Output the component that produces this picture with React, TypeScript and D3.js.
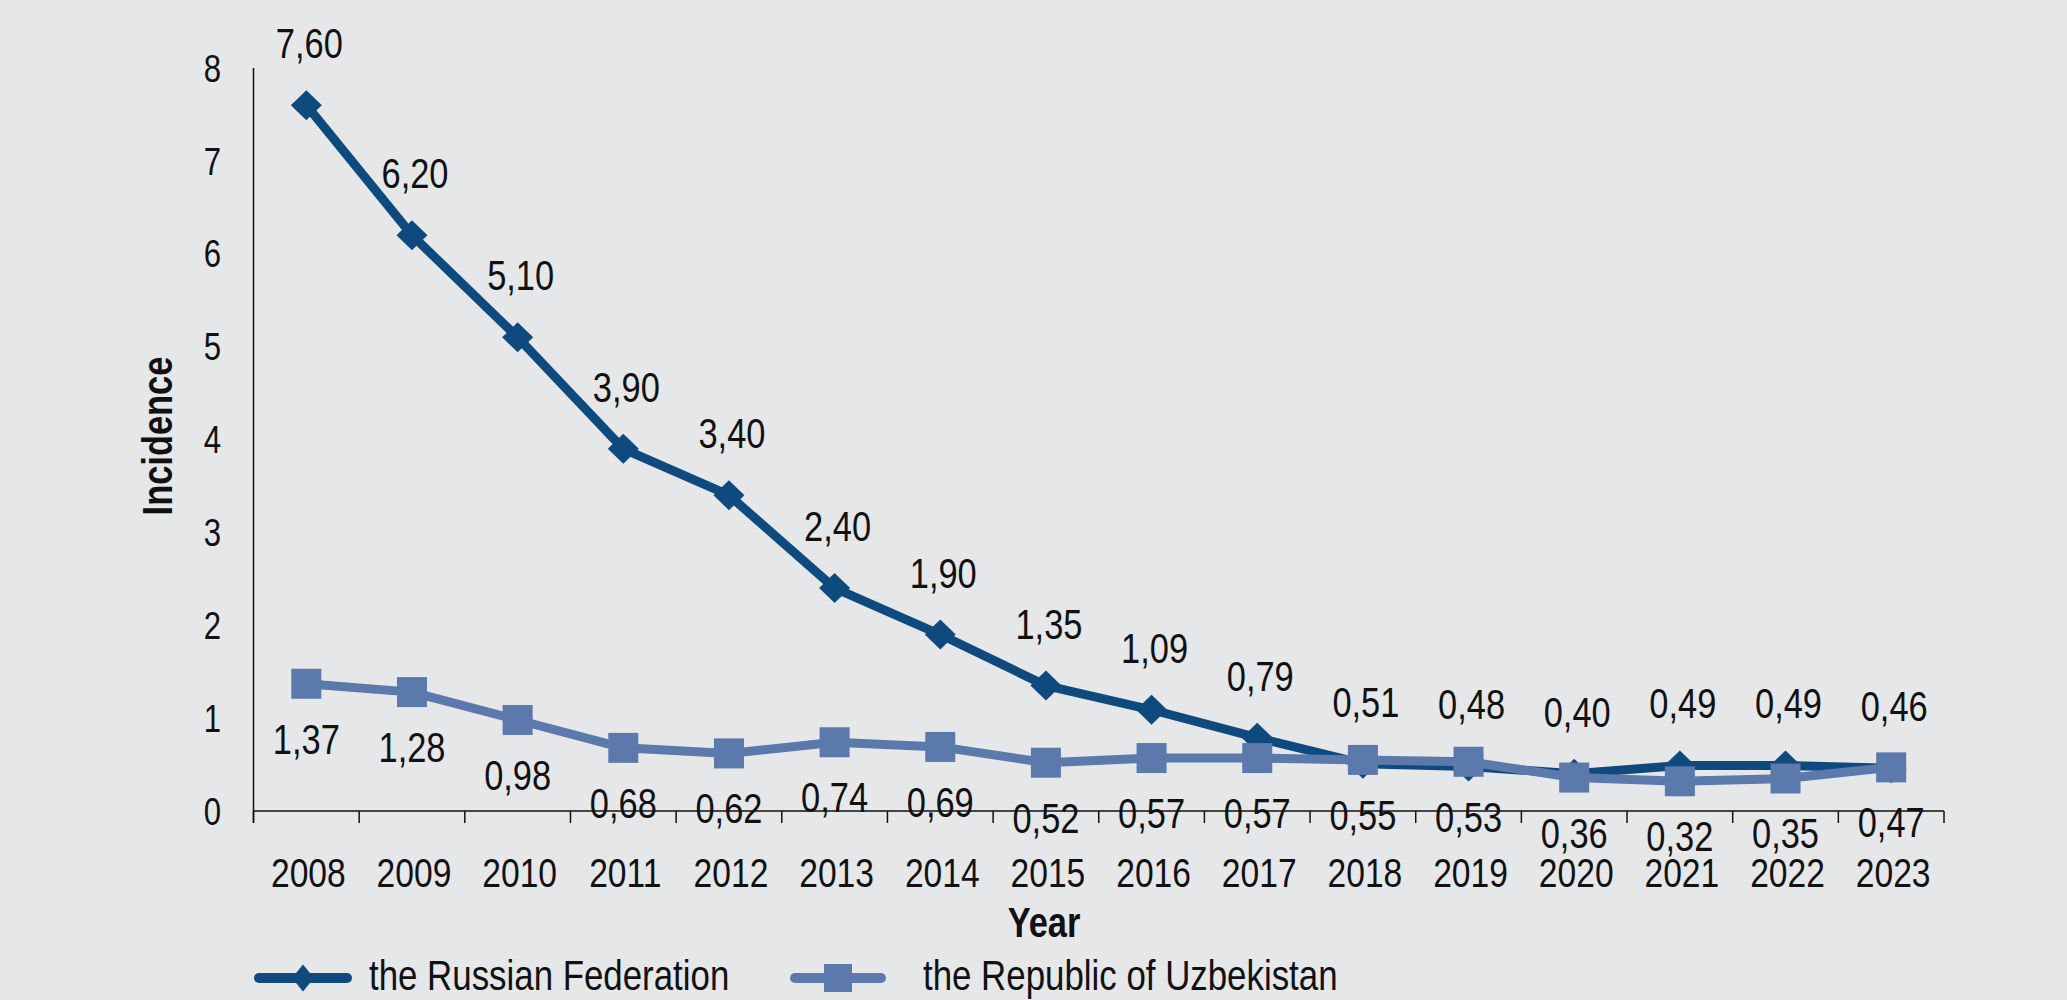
import React from "react";
import * as d3 from "d3";

const years = ["2008","2009","2010","2011","2012","2013","2014","2015","2016","2017","2018","2019","2020","2021","2022","2023"];
const russia = [7.6, 6.2, 5.1, 3.9, 3.4, 2.4, 1.9, 1.35, 1.09, 0.79, 0.51, 0.48, 0.4, 0.49, 0.49, 0.46];
const uzbekistan = [1.37, 1.28, 0.98, 0.68, 0.62, 0.74, 0.69, 0.52, 0.57, 0.57, 0.55, 0.53, 0.36, 0.32, 0.35, 0.47];
const yTicks = [0, 1, 2, 3, 4, 5, 6, 7, 8];
const seriesNames = ["the Russian Federation", "the Republic of Uzbekistan"];

const W = 2067, H = 1000;
const BG = "#e6e7e9";
const C_RU = "#0f4a7e";
const C_UZ = "#5b79ab";
const FONT = "'Liberation Sans', Arial, sans-serif";
const NARROW = 0.82;

const fmt = (v: number) => v.toFixed(2).replace(".", ",");

type NTProps = {
  x: number; y: number; size: number; anchor?: "start" | "middle" | "end";
  bold?: boolean; rotate?: number; dy?: string; children: React.ReactNode;
};
function NText({ x, y, size, anchor = "start", bold = false, rotate = 0, dy, children }: NTProps) {
  return (
    <g transform={`translate(${x},${y}) rotate(${rotate}) scale(${NARROW},1)`}>
      <text x={0} y={0} dy={dy} textAnchor={anchor} fontSize={size} fontWeight={bold ? "bold" : "normal"} fill="#111">{children}</text>
    </g>
  );
}

export default function App() {
  const x = d3.scaleBand<string>().domain(years).range([253.5, 1944]);
  const y = d3.scaleLinear().domain([0, 8]).range([811, 68]);
  const cx = (i: number) => (x(years[i]) as number) + x.bandwidth() / 2;
  const line = d3.line<number>().x((_, i) => cx(i)).y((d) => y(d));
  const diamond = (px: number, py: number, hw: number, hh: number) =>
    `M${px},${py - hh}L${px + hw},${py}L${px},${py + hh}L${px - hw},${py}Z`;
  const boundaries = years.map((yr) => x(yr) as number).concat([x.range()[1]]);

  return (
    <svg width={W} height={H} style={{ position: "absolute", left: 0, top: 0, display: "block" }} fontFamily={FONT}>
      <rect x={0} y={0} width={W} height={H} fill={BG} />
      {/* axes */}
      <line x1={253.5} x2={253.5} y1={y(8)} y2={823} stroke="#111" strokeWidth={1.5} />
      <line x1={253.5} x2={1944} y1={y(0)} y2={y(0)} stroke="#111" strokeWidth={1.5} />
      {boundaries.map((b, i) => (
        <line key={i} x1={b} x2={b} y1={y(0)} y2={823} stroke="#111" strokeWidth={1.5} />
      ))}
      {yTicks.map((t) => (
        <NText key={t} x={221} y={y(t)} dy="0.36em" anchor="end" size={38}>{t}</NText>
      ))}
      {years.map((yr, i) => (
        <NText key={yr} x={cx(i) + 2} y={887} anchor="middle" size={41}>{yr}</NText>
      ))}
      <NText x={1044} y={937} anchor="middle" size={42} bold>Year</NText>
      <g transform="translate(172,436) rotate(-90)">
        <NText x={0} y={0} anchor="middle" size={42} bold>Incidence</NText>
      </g>

      {/* Russia */}
      <path d={line(russia) || ""} fill="none" stroke={C_RU} strokeWidth={9} strokeLinejoin="round" />
      {russia.map((v, i) => (
        <path key={i} d={diamond(cx(i), y(v), 15.5, 15)} fill={C_RU} />
      ))}
      {/* Uzbekistan */}
      <path d={line(uzbekistan) || ""} fill="none" stroke={C_UZ} strokeWidth={9} strokeLinejoin="round" />
      {uzbekistan.map((v, i) => (
        <rect key={i} x={cx(i) - 15} y={y(v) - 15} width={30} height={30} fill={C_UZ} />
      ))}

      {russia.map((v, i) => (
        <NText key={"rl" + i} x={cx(i) + 3} y={y(v) - 47} anchor="middle" size={42}>{fmt(v)}</NText>
      ))}
      {uzbekistan.map((v, i) => (
        <NText key={"ul" + i} x={cx(i)} y={y(v) + 70} anchor="middle" size={42}>{fmt(v)}</NText>
      ))}

      {/* legend */}
      <line x1={259} x2={347} y1={978} y2={978} stroke={C_RU} strokeWidth={10} strokeLinecap="round" />
      <path d={diamond(303, 978, 11, 13.5)} fill={C_RU} />
      <NText x={369} y={990} size={42.5}>{seriesNames[0]}</NText>
      <line x1={795} x2={881} y1={978} y2={978} stroke={C_UZ} strokeWidth={10} strokeLinecap="round" />
      <rect x={824} y={964} width={28} height={28} fill={C_UZ} />
      <NText x={923} y={990} size={42.5}>{seriesNames[1]}</NText>
    </svg>
  );
}
